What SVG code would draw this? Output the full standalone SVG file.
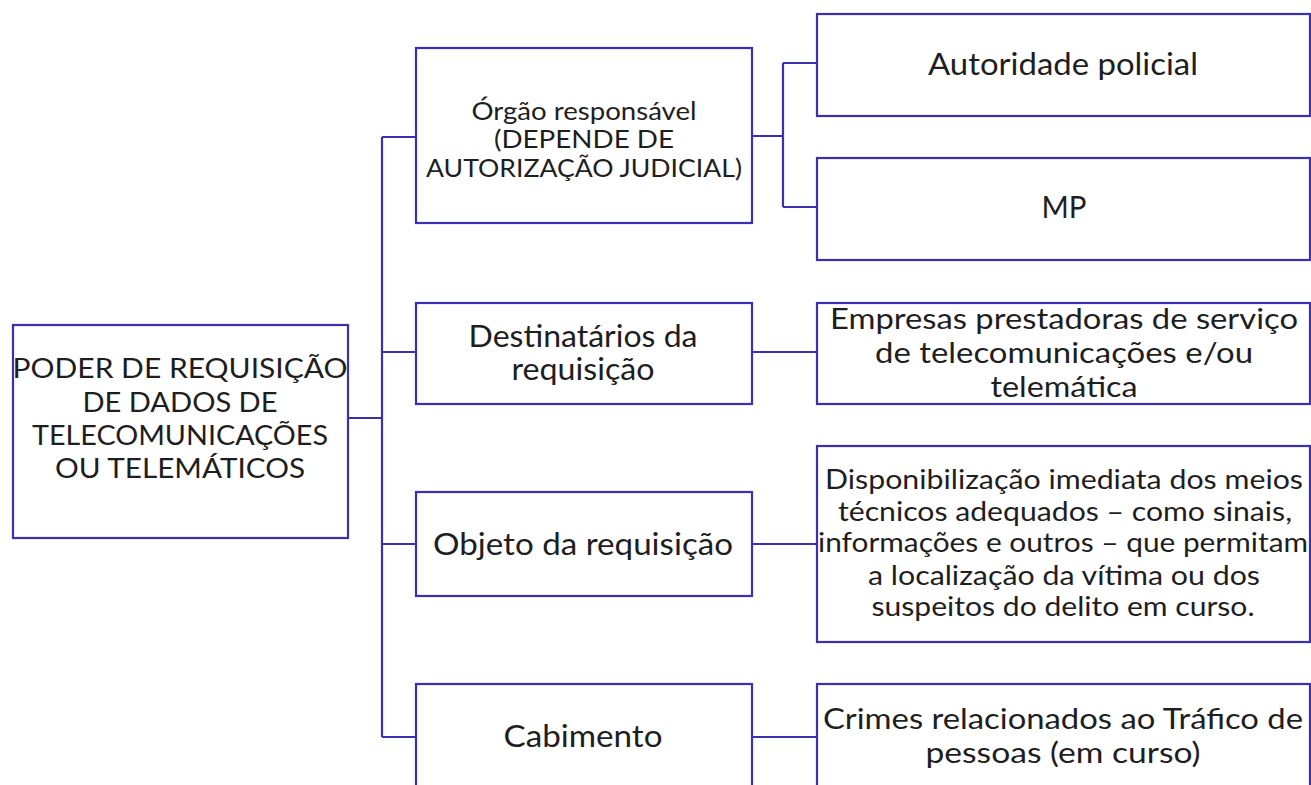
<svg xmlns="http://www.w3.org/2000/svg" width="1311" height="785" viewBox="0 0 1311 785">
<style>
.box{fill:#fff;stroke:#3d2fb4;stroke-width:2.2}
.ln{fill:none;stroke:#3d2fb4;stroke-width:2.2}
text{font-family:Lato,"Noto Sans",sans-serif;fill:#1e1e1e;text-anchor:middle}
.t26{font-size:26px}
.t25{font-size:25px}
.t27{font-size:27px}
.t29{font-size:29px}
.t30{font-size:30px}
</style>
<rect width="1311" height="785" fill="#fff"/>
<g id="connectors">
<path class="ln" d="M348 418H382M382 137V737M382 137H416M382 352H416M382 544H416M382 737H416"/>
<path class="ln" d="M752 136H783M783 63V207M783 63H817M783 207H817"/>
<path class="ln" d="M752 352H817M752 544H817M752 737H817"/>
</g>
<g id="root">
<rect class="box" x="13" y="325" width="335" height="213"/>
<text class="t26" x="180" y="378" textLength="335" lengthAdjust="spacingAndGlyphs">PODER DE REQUISIÇÃO</text>
<text class="t26" x="180" y="412" textLength="195" lengthAdjust="spacingAndGlyphs">DE DADOS DE</text>
<text class="t26" x="180" y="445" textLength="296" lengthAdjust="spacingAndGlyphs">TELECOMUNICAÇÕES</text>
<text class="t26" x="180" y="478" textLength="250" lengthAdjust="spacingAndGlyphs">OU TELEMÁTICOS</text>
</g>
<g id="orgao">
<rect class="box" x="416" y="48" width="336" height="175"/>
<text class="t25" x="584" y="120" textLength="225" lengthAdjust="spacingAndGlyphs">Órgão responsável</text>
<text class="t25" x="584" y="148" textLength="180" lengthAdjust="spacingAndGlyphs">(DEPENDE DE</text>
<text class="t25" x="584" y="177" textLength="316" lengthAdjust="spacingAndGlyphs">AUTORIZAÇÃO JUDICIAL)</text>
</g>
<g id="destinatarios">
<rect class="box" x="416" y="303" width="336" height="101"/>
<text class="t30" x="583" y="347" textLength="229" lengthAdjust="spacingAndGlyphs">Destinatários da</text>
<text class="t30" x="583" y="380" textLength="143" lengthAdjust="spacingAndGlyphs">requisição</text>
</g>
<g id="objeto">
<rect class="box" x="416" y="492" width="336" height="104"/>
<text class="t30" x="583" y="555" textLength="300" lengthAdjust="spacingAndGlyphs">Objeto da requisição</text>
</g>
<g id="cabimento">
<rect class="box" x="416" y="684" width="336" height="111"/>
<text class="t30" x="583" y="747" textLength="159" lengthAdjust="spacingAndGlyphs">Cabimento</text>
</g>
<g id="autoridade">
<rect class="box" x="817" y="14" width="493" height="102"/>
<text class="t30" x="1063" y="75" textLength="270" lengthAdjust="spacingAndGlyphs">Autoridade policial</text>
</g>
<g id="mp">
<rect class="box" x="817" y="158" width="493" height="102"/>
<text class="t30" x="1064" y="218" textLength="45" lengthAdjust="spacingAndGlyphs">MP</text>
</g>
<g id="empresas">
<rect class="box" x="817" y="303" width="493" height="101"/>
<text class="t29" x="1064" y="329" textLength="468" lengthAdjust="spacingAndGlyphs">Empresas prestadoras de serviço</text>
<text class="t29" x="1064" y="363" textLength="378" lengthAdjust="spacingAndGlyphs">de telecomunicações e/ou</text>
<text class="t29" x="1064" y="397" textLength="147" lengthAdjust="spacingAndGlyphs">telemática</text>
</g>
<g id="disponibilizacao">
<rect class="box" x="817" y="446" width="493" height="196"/>
<text class="t27" x="1064" y="489" textLength="478" lengthAdjust="spacingAndGlyphs">Disponibilização imediata dos meios</text>
<text class="t27" x="1065" y="521" textLength="454" lengthAdjust="spacingAndGlyphs">técnicos adequados – como sinais,</text>
<text class="t27" x="1063" y="552" textLength="490" lengthAdjust="spacingAndGlyphs">informações e outros – que permitam</text>
<text class="t27" x="1064" y="585" textLength="392" lengthAdjust="spacingAndGlyphs">a localização da vítima ou dos</text>
<text class="t27" x="1063" y="616" textLength="383" lengthAdjust="spacingAndGlyphs">suspeitos do delito em curso.</text>
</g>
<g id="crimes">
<rect class="box" x="817" y="684" width="493" height="111"/>
<text class="t29" x="1063" y="729" textLength="480" lengthAdjust="spacingAndGlyphs">Crimes relacionados ao Tráfico de</text>
<text class="t29" x="1063" y="763" textLength="275" lengthAdjust="spacingAndGlyphs">pessoas (em curso)</text>
</g>
</svg>
